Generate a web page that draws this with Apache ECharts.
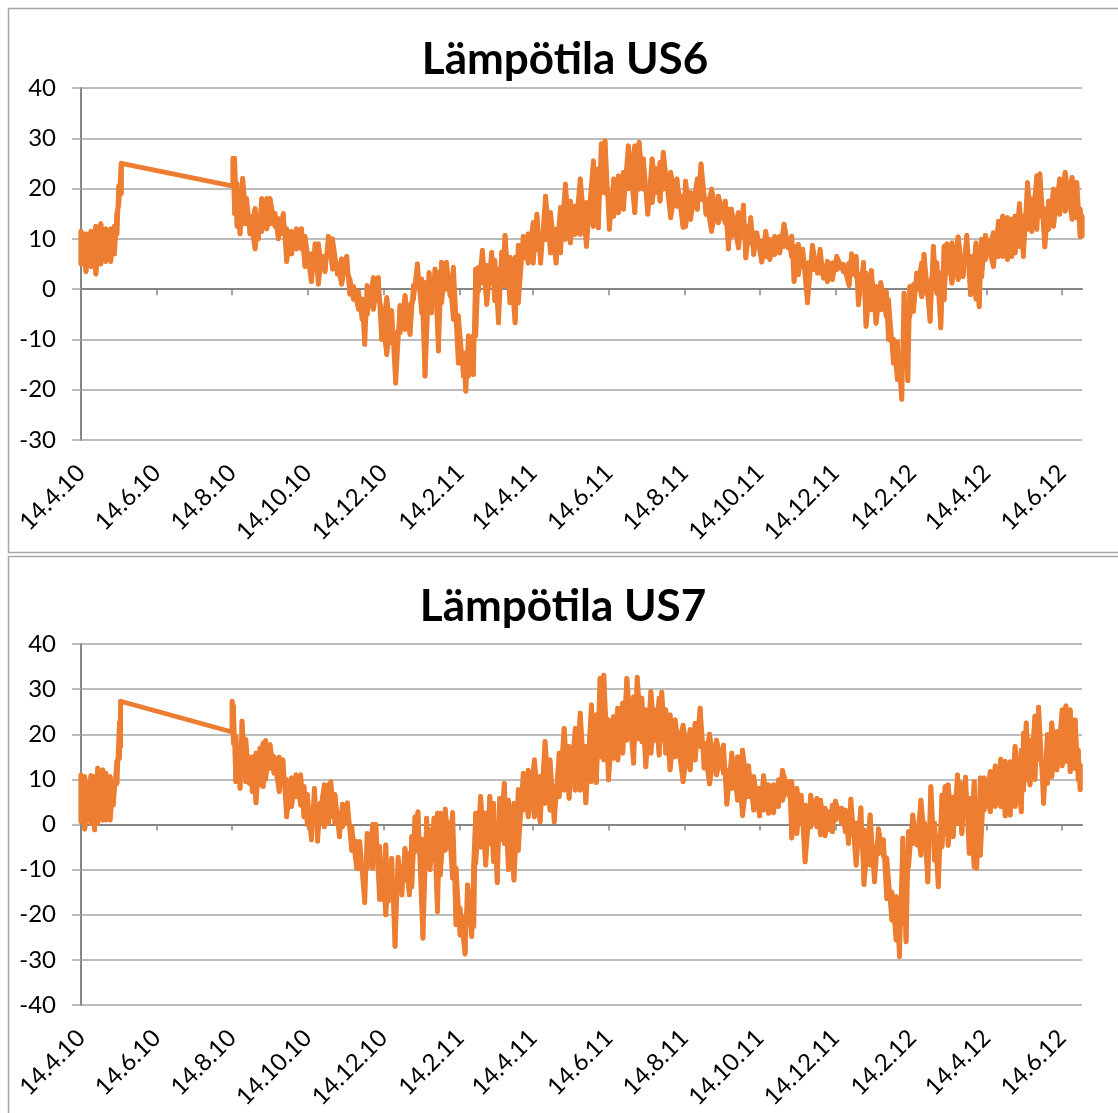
<!DOCTYPE html>
<html><head><meta charset="utf-8">
<style>html,body{margin:0;padding:0;background:#fff}#c{width:1118px;height:1113px}</style>
<script src="https://cdn.jsdelivr.net/npm/echarts@6/dist/echarts.min.js"></script>
</head><body><div id="c"></div>
<script>
// x = days since 14.4.2010; each row: [day, low reading, high reading]
const tickDays = [0,61,122,183,244,306,365,426,487,548,609,671,731,792];
const tickLabels = ['14.4.10','14.6.10','14.8.10','14.10.10','14.12.10','14.2.11','14.4.11','14.6.11','14.8.11','14.10.11','14.12.11','14.2.12','14.4.12','14.6.12'];
const titles = ['Lämpötila US6','Lämpötila US7'];
const us6Rows = [
[0,5,11.5],[4,3.5,11],[8,4.5,11.5],[12,3,12.5],[16,5,13],[20,5.5,12],[24,5.5,12],[27,7,12.5],[29,11,15],[30.5,17,20.5],[32.5,19,25],
[122.7,20.5,26],[124,15,26],[126,12.5,21],[128.4,11,19],[130.5,13,22],[133.7,13,18],[136.4,11,14.5],[140.5,8,16],[143.2,10,13.5],[145.9,11.5,18],[150,12,18],[152.6,13,18],[156.6,12.5,15],[159.3,10,14],[163.3,11,15],[166,5.5,12],[170,7,11.5],[174,8,12],[178,8,12],[180.8,4.5,10.5],[186,1.5,7],[189,4.5,9],[191.6,1,9],[194.3,4.5,6.5],[197,3.5,6.5],[199.7,6.5,10.5],[203,4,10],[207,3,5],[210.4,1,6],[214.5,3.5,6.5],
[217,-1,2],[220,-2,0.5],[224,-4,-0.5],[227,-6,-2],[229,-11,-4],[231,-5,0.7],[236,-4,2.3],[240,-0.5,2.3],[242.7,-10,-4.7],[246.8,-13,-1.7],[250.8,-10.7,-4.3],[254,-18.7,-8.7],[257.5,-8.7,-3.3],[261.6,-8,-1.3],[265.6,-9,-3.3],[268.3,-2,0.7],[271.5,1.3,5],[275,-4.7,2],[277.7,-17.3,1.3],[281,-0.7,3.3],[283,-4.7,1.3],[285.8,-2.7,4],[288.5,-12.3,3.3],[291,-2.7,5.3],[295,0,5.3],[298,-1.3,1.3],[300.6,-6,4.3],[304.6,-14.7,-5.3],[308.7,-17.3,-12.7],[310.6,-20.3,-15],[312.7,-17.3,-9.3],[316.7,-17,-9.3],[318.6,-9.3,4],[320.8,-0.3,4.3],[324,1.3,7.7],[327.5,-3,4.7],[331.5,1.3,7.3],[334,-2.3,5.7],[337,-6.7,4],[339.6,0.7,7.3],[342.3,0.7,10.7],[346.3,-2.7,6.3],[350.4,-6.7,6.3],[353,-2.7,8.7],[357,6.2,10.5],
[361,5.2,11],[365,5.2,13.2],[368,7.9,14.9],[371,5.2,10.5],[375,9.9,18.5],[379,7.2,15.2],[383.5,5.2,11.9],[387,7.2,16.2],[391,9.9,20.9],[395,9.2,17.5],[399,10.9,16.5],[403,10.9,21.9],[408,8.5,17.2],[413.6,12.5,25.5],[417.6,12.2,23.9],[420,19.2,28.9],[423,19.2,29.5],[426.5,11.9,18.5],[430,14.5,21.9],[433.8,15.2,22.5],[437.8,15.9,23.2],[441.8,20,28.5],[447,15.2,28.5],[450.5,19.9,29.2],[454,19.9,25.9],[457.5,14.9,19.9],[461,17.2,25.9],[464.7,19.2,23.9],[467.4,17.5,25.2],[470,19.9,27.2],[476,14.2,23.2],[481,16.5,21.9],[486,12.3,18.5],[488,12.5,21.5],[492,13.9,19.2],[497.5,15.9,21.9],[500.5,17.9,24.9],[504.5,14.9,17.9],[509,11.5,19.9],[514.5,13.2,18.5],[520,13.2,17.5],[522.6,8,15.9],[525,10.5,15.9],[530.7,8.2,15.2],[534.7,10.5,16.7],[536.6,6.2,12.5],[540.6,9.2,14.2],[543,6.9,11.2],[545.5,8.5,11.2],[549.5,5.4,9.5],[552.7,6.5,11.5],[556,5.9,9.9],[560,6.9,10.5],[564,7.2,10.5],[567.5,8.5,12.9],[571,8.2,9.9],[573.7,6.5,10.5],[575.6,1.5,8.5],[579,2.9,8.9],
[582.6,4.5,7.9],[586.4,-2.7,5.2],[590.4,3.9,8.7],[594.4,3.2,3.9],[596.6,3.2,7.9],[599.3,2.2,4.5],[602.5,1.5,5.5],[606.5,1.9,5.2],[610,3.9,6.5],[615.4,3.5,4.9],[620,0.7,5.2],[622,2.9,7],[625.7,2.5,6.5],[627.5,-3.1,2.9],[631.6,0.5,5.3],[633.7,-7.4,3.2],[638,-4.1,3.7],[641.8,-6.8,0.5],[645.6,-4.1,1.3],[650,-5.4,-0.5],[651.8,-10,-2.1],[655.8,-14.7,-10],[659,-18,-10.5],[662.5,-21.9,-14.1],[664.4,-15.4,-0.8],[667.4,-18.2,-6.1],[669,-5.4,0.5],[672,-4.4,0.9],[674.6,0,3.2],[678.7,-1.5,5.2],[680.5,-0.8,6.9],[685.4,-6.4,1.2],[688,3.2,8.5],[690.8,-0.8,5.2],[694,-7.7,3.2],[696.7,-2.1,8.5],[698.9,3.2,9],[703,1.2,9.2],[708,1.9,10.4],[712,2.5,5.9],[715,5.9,10.7],[718,-1.1,6.5],[722.5,-2,9.2],[725,-3.5,7.2],[727,2.5,9.9],[730,5.9,10.7],[736.5,4.5,11.2],[740.6,6.5,13.5],[744,6.5,14.5],[747.8,5.9,14.2],[751.3,6.5,13.9],[754,7.2,14.5],[757.5,8.5,17],[760.7,6.5,14.5],[764,11.9,21.2],[767.5,11.5,17.9],[771.5,11.9,22.5],[774,14.5,22.9],[778,8.4,15.9],[781,11.9,17.5],[785,12.5,19.9],[790,14.9,21.9],[794.4,15.5,23.2],[800,13.9,22.2],[803.8,14.2,21.2],[806.5,10.5,15.9],[808,10.5,14.5]
];
const us7Rows = [
[0,0.6,11],[3,-1,10.6],[8,0.3,10.8],[11,-1.2,10.6],[13.5,0.3,12.5],[17.5,1,12.1],[20,1,11.4],[23.5,1,10.6],[26,4.3,8.8],[29,9.1,14],[31,14.7,22.5],[32,17.3,27.3],
[122,20.5,27.3],[123,18,26.2],[125,9.5,19.5],[128.4,8,15],[130,12,22.9],[133,9.5,18.8],[136,9.1,14.9],[138.3,7.3,15],[141.3,4.8,15.8],[144.5,8.8,16.9],[147,8.4,18],[149,10,18.6],[152.6,12.5,17.7],[155.8,11.4,15],[160,7.3,14.9],[163,9.1,14.3],[166,1.7,9.9],[170,4,10.3],[173.6,6.2,11],[177.3,4.3,11],[180,1.7,8.4],[182.7,0,6.6],[186,-3.4,2.9],[188.4,2.5,8],[191,-3.7,3.2],[193,2.5,4.7],[196.4,-0.5,8.8],[199.7,0.3,8.8],[201.6,1.7,9.5],[205,0.3,6.6],[208.6,-2.7,2.5],[211,-0.5,4.5],[213.7,0.3,3.2],[215,0.3,4.8],[218.5,-5.7,-0.5],[222.5,-9.7,-3.8],
[225,-9.7,-3.8],[229,-17.3,-9.3],[231,-9.7,-2],[235.5,-9.7,0],[238,-5.7,0],[241,-16.6,-4.9],[244,-16.7,-10.8],[246,-20,-4.5],[248,-17,-12.3],[250.8,-15.6,-7.5],[253.5,-27,-13],[256,-13,-7.3],[259,-15.6,-9.3],[261.5,-12.3,-5.3],[265,-15.6,-6.4],[267,-13.8,-2.7],[269.6,-6,1.7],[272,-3,2.8],[276,-25.2,-3.4],[279,-5,1.4],[281.7,-10,-1.2],[285,-8,1.4],[287.7,-19.3,2.5],[290,-11.2,2.5],[294,-5.7,3.4],[297,-5,0.3],[300,-11.9,2.6],[302.7,-22.2,-9.7],[306,-24.5,-18.6],[310,-28.7,-20.4],[312,-21.9,-13.4],[315.4,-24.8,-14.9],[317,-22.6,-8.6],[318.6,-8.6,2.5],[322.6,-5,6.2],[326.7,-9,2.5],[330,-4.2,6.2],[333,-8.2,4.7],[336,-12.9,0.3],[338,-3.4,5.8],[341.7,-4.2,9.1],[345,-10,5.4],[349.5,-12.3,4.7],[353,-5.7,7.7],[357,3.2,11.3],
[361,1.7,12],[366,1.7,14.3],[370.6,0.6,10.6],[374.6,4.7,18.4],[378.6,3.2,14.3],[382,0.6,8.4],[386,6.2,15.8],[390,7.6,21.3],[394,5.8,17.3],[399,7.6,21.3],[403,7.6,24.7],[407.5,4.8,17.3],[412,9.5,26.5],[416,9.3,24.3],[419,15,32.4],[422,14.3,33.1],[425.8,9.9,23.2],[429.8,14.7,23.9],[433.3,14.3,25.8],[437.3,15.8,26.9],[440.6,18.7,32.4],[446,13.6,28.3],[449,19,32.6],[452.7,18.4,28],[455.9,12.8,25.4],[460,15.8,29.5],[463.4,18.7,25.4],[466.7,15.4,28],[468.8,18.7,29.3],[472,15.8,25.4],[475.5,12.1,24.3],[479.6,15,23.2],[486,9.5,22],[491.7,12.1,21],[495.7,14.3,22.4],[499.8,17.3,25.8],[503,12.5,18],[507.3,9,20],[513,11,18.7],[518.6,11.4,17.6],[521.3,4.5,12],[525.3,8,15.8],[530,5.4,15],[534,2,16.5],[538.8,6.2,13],[543,3.2,10.6],[547.7,1.9,8],[551,3.2,10.8],[555,2.5,8.8],[559,2.6,8.8],[563,4,9.9],[566.2,5.4,12],[572,6.2,9.5],
[573.7,-3,9.5],[577.8,-2,8],[581.3,0.3,6.5],[584.5,-8.3,4.3],[589,-0.5,6.5],[594,-0.5,5.8],[597,-2.3,5.4],[600.6,-2.5,3.6],[604,-1.2,2.8],[606.6,-1.6,4.3],[609,1,5.2],[614,0.3,3.6],[617,-1.6,3.2],[619.5,-4.2,1],[621.4,-2,5.6],[625.7,-9,0.3],[629.5,-3.4,3.7],[632,-13.3,-1.2],[637,-9,2.1],[640.5,-12.7,-5],[643.7,-6.4,-1],[647.7,-7,-3.4],[650.4,-16.4,-7.5],[654.5,-21.2,-15],[658,-25.6,-16],[660.7,-29.3,-20.4],[663.4,-21.9,-3],[666,-26,-6.4],[668,-9.3,-1.6],[671.4,-4.2,2.1],[674.7,-4.5,-1.2],[678,-6.8,5.4],[680.8,-2.7,0.3],[683.5,-12.7,-0.5],[686,-2,8.4],[689,-7.9,0.3],[692,-13.8,-2.7],[695,-4.9,6.5],[697.5,-2,8.4],[700,-4.6,8.8],[704,-2.7,6],[707.5,0.3,11],[711,-2,9.1],[714,2.5,10.5],[717,-6.4,5.8],[721,-9.4,9.5],[723,-9.7,2.5],[726,-6.8,10.3],[729,3.2,10.3],[734,2.8,11.7],[738,4,13],[742.5,4,14.5],[746,1.9,14],[750,2.1,13.9],[754,4,17.3],[759,2.8,16.5],[760.8,7.6,20.2],[763,10,22.5],[766,8.8,18.7],[770,10,24],[773,15.8,26],[777,4.7,12],[780,9.1,19.9],[783.6,10.6,22.5],[787.7,12.1,20.6],[792,13,25.4],[795,14,26.3],[798.5,11.7,25.4],[802.5,12.4,23.2],[805,9.9,16.5],[806.5,7.7,13.2]
];

const FONT = 'Lato';
const ORANGE = '#ED7D31';
const LINE_W = 4.8;
const rowsToLine = rows => rows.flatMap(r => [[r[0], r[1]], [r[0], r[2]]]);
// cross strokes from each low up to the next row's high; no stroke across the logger outage
const rowsToCross = rows => rows.flatMap((r,i) => (i && r[0]-rows[i-1][0] > 20) ? [[r[0],null],[r[0], r[2]], [r[0], r[1]]] : [[r[0], r[2]], [r[0], r[1]]]);
const xEnd = 808;

function xAxes(gridIndex) {
  return [
    { type:'value', gridIndex, position:'bottom', min:0, max:xEnd, axisLine:{show:false,onZero:false}, axisTick:{show:false}, splitLine:{show:false},
      axisLabel:{ customValues:tickDays, rotate:45, margin:29, fontFamily:FONT, fontSize:24, color:'#000', hideOverlap:false,
        formatter:v => tickLabels[tickDays.indexOf(v)] || '' } },
    { type:'value', gridIndex, position:'bottom', min:0, max:xEnd, axisLine:{show:true,onZero:true,lineStyle:{color:'#868686',width:2}},
      axisTick:{show:true,customValues:tickDays,length:6,lineStyle:{color:'#868686',width:1.5}}, axisLabel:{show:false}, splitLine:{show:false} }
  ];
}
function yAxis(gridIndex, min) {
  return { type:'value', gridIndex, min, max:40, interval:10, axisLine:{show:true,onZero:false,lineStyle:{color:'#868686',width:2}},
    axisTick:{show:true,length:9,lineStyle:{color:'#a6a6a6',width:1.5}},
    axisLabel:{margin:25,fontFamily:FONT,fontSize:24,color:'#000'},
    splitLine:{show:true,lineStyle:{color:'#a6a6a6',width:1.5}} };
}
const titleStyle = {fontFamily:FONT,fontWeight:'bold',fontSize:44,color:'#000'};
const frame = (x,y,w,h) => ({type:'rect',shape:{x,y,width:w,height:h},style:{fill:'#fff',stroke:'#a6a6a6',lineWidth:1.5},z:-10,silent:true});
const lineSeries = (name,xAxisIndex,yAxisIndex,data,z) => ({name,type:'line',xAxisIndex,yAxisIndex,data,showSymbol:false,sampling:false,connectNulls:false,
  lineStyle:{color:ORANGE,width:LINE_W,join:'round',cap:'round'},z});

const chart = echarts.init(document.getElementById('c'), null, {renderer:'canvas'});
chart.setOption({
  animation:false,
  backgroundColor:'#fff',
  graphic:[frame(8.5,8.5,1130,544), frame(8.5,556.5,1130,580)],
  title:[
    {text:titles[0],left:560,top:33,textAlign:'center',textStyle:titleStyle},
    {text:titles[1],left:558,top:580,textAlign:'center',textStyle:titleStyle}
  ],
  grid:[
    {left:81,top:88,width:1001,height:352},
    {left:81,top:644,width:1001,height:361}
  ],
  xAxis:[...xAxes(0),...xAxes(1)],
  yAxis:[yAxis(0,-30),yAxis(1,-40)],
  series:[
    lineSeries('US6',0,0,rowsToLine(us6Rows),5),
    lineSeries('US6 cross',0,0,rowsToCross(us6Rows),5),
    lineSeries('US7',2,1,rowsToLine(us7Rows),5),
    lineSeries('US7 cross',2,1,rowsToCross(us7Rows),5)
  ]
});
</script></body></html>
